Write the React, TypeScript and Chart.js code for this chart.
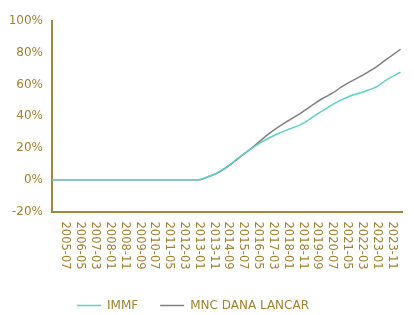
import React, { useEffect, useRef } from "react";
import { Chart, registerables } from "chart.js";

Chart.register(...registerables);

// ---- data ----
const dates = [
  "2004-10", "2013-01", "2013-07", "2014-01", "2014-07", "2015-01", "2015-07",
  "2016-01", "2016-07", "2017-01", "2017-07", "2018-01", "2018-07", "2019-01",
  "2019-07", "2020-01", "2020-07", "2021-01", "2021-07", "2022-01", "2022-07",
  "2023-01", "2023-07", "2024-05",
];
const immf = [
  0, 0, 1.9, 4.2, 7.6, 11.8, 16.1,
  20.0, 23.6, 26.6, 29.3, 31.6, 33.6, 36.5,
  40.3, 43.8, 47.2, 50.3, 52.8, 54.5, 56.4,
  58.6, 62.6, 67.7,
];
const mncDanaLancar = [
  0, 0, 1.8, 4.0, 7.3, 11.5, 15.9,
  20.2, 25.0, 29.5, 33.5, 37.0, 40.4, 44.0,
  48.0, 51.5, 54.5, 58.3, 61.6, 64.6, 67.8,
  71.3, 75.5, 82.2,
];
const xTickLabels = [
  "2005-07", "2006-05", "2007-03", "2008-01", "2008-11", "2009-09", "2010-07",
  "2011-05", "2012-03", "2013-01", "2013-11", "2014-09", "2015-07", "2016-05",
  "2017-03", "2018-01", "2018-11", "2019-09", "2020-07", "2021-05", "2022-03",
  "2023-01", "2023-11",
];
const seriesNames = ["IMMF", "MNC DANA LANCAR"];
const yTicks = [-20, 0, 20, 40, 60, 80, 100];

// ---- styles ----
const GOLD_TEXT = "#a2812f";
const GOLD_AXIS = "#a68739";
const CYAN = "#5ad3c8";
const GREY = "#7d8282";
const FONT = '"DejaVu Sans", Verdana, sans-serif';

// months since 2005-07
const monthIndex = (s: string) => {
  const [y, m] = s.split("-").map(Number);
  return (y - 2005) * 12 + (m - 7);
};

const CHART_BOTTOM = 211.5;
const LEGEND_CENTER_Y = 305.5;
const LEGEND_DX = -8;
const LEGEND_PAD = 22;
const LEGEND_FONT = 12;

const xLabelsPlugin = {
  id: "xLabelsPlugin",
  afterDraw(chart: any) {
    const xs = chart.scales.x;
    const ctx = chart.ctx;
    ctx.save();
    ctx.font = `11.5px ${FONT}`;
    ctx.fillStyle = GOLD_TEXT;
    ctx.textAlign = "left";
    ctx.textBaseline = "middle";
    for (const lab of xTickLabels) {
      const px = xs.getPixelForValue(monthIndex(lab));
      ctx.save();
      ctx.translate(px, xs.top + 10);
      ctx.rotate(Math.PI / 2);
      ctx.fillText(lab, 0, 0);
      ctx.restore();
    }
    ctx.restore();
  },
};

const legendShiftPlugin = {
  id: "legendShiftPlugin",
  afterLayout(chart: any) {
    const lg = chart.legend;
    if (!lg) return;
    const dy = LEGEND_CENTER_Y - (lg.top + LEGEND_PAD + LEGEND_FONT / 2);
    lg.left += LEGEND_DX;
    lg.right += LEGEND_DX;
    lg.top += dy;
    lg.bottom += dy;
  },
};

export default function App() {
  const ref = useRef<HTMLCanvasElement | null>(null);

  useEffect(() => {
    if (!ref.current) return;
    const mk = (vals: number[]) => dates.map((d, i) => ({ x: monthIndex(d), y: vals[i] }));
    const chart = new Chart(ref.current, {
      type: "line",
      data: {
        datasets: [
          {
            label: seriesNames[0],
            data: mk(immf),
            borderColor: CYAN,
            backgroundColor: CYAN,
            borderWidth: 1.5,
            pointRadius: 0,
            cubicInterpolationMode: "monotone",
          },
          {
            label: seriesNames[1],
            data: mk(mncDanaLancar),
            borderColor: GREY,
            backgroundColor: GREY,
            borderWidth: 1.5,
            pointRadius: 0,
            cubicInterpolationMode: "monotone",
          },
        ],
      },
      options: {
        animation: false,
        responsive: true,
        maintainAspectRatio: false,
        layout: { padding: { top: 21, right: 12, left: 0, bottom: 0 } },
        plugins: {
          tooltip: { enabled: false },
          legend: {
            position: "bottom",
            labels: {
              color: GOLD_TEXT,
              font: { family: FONT, size: LEGEND_FONT },
              usePointStyle: true,
              pointStyle: "line",
              pointStyleWidth: 24,
              boxWidth: 24,
              padding: LEGEND_PAD,
            },
          },
        },
        scales: {
          x: {
            type: "linear",
            min: -9,
            max: 227,
            grid: { display: false, drawTicks: false },
            border: { display: true, color: GOLD_AXIS, width: 2 },
            ticks: { display: false },
            afterFit(axis: any) {
              const lh = axis.chart.legend ? axis.chart.legend.height : 0;
              axis.height = axis.chart.height - lh - CHART_BOTTOM;
            },
          },
          y: {
            min: yTicks[0],
            max: yTicks[yTicks.length - 1],
            grid: { display: false, drawTicks: false },
            border: { display: true, color: GOLD_AXIS, width: 2 },
            ticks: {
              stepSize: 20,
              padding: 9,
              color: GOLD_TEXT,
              font: { family: FONT, size: 12 },
              callback: (v: any) => `${v}%`,
            },
            afterFit(axis: any) {
              axis.width = 52;
            },
          },
        },
      },
      plugins: [xLabelsPlugin, legendShiftPlugin],
    } as any);
    return () => chart.destroy();
  }, []);

  return (
    <div style={{ position: "absolute", left: 0, top: 0, width: 414, height: 315 }}>
      <canvas ref={ref} />
    </div>
  );
}
